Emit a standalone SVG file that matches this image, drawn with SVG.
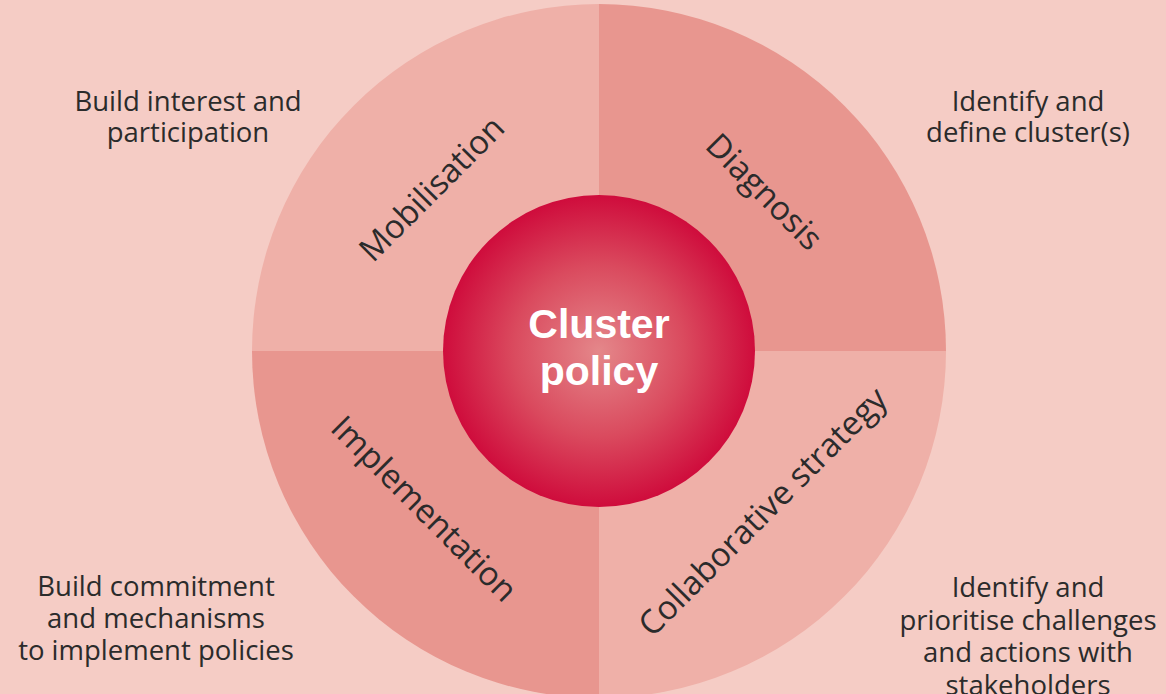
<svg xmlns="http://www.w3.org/2000/svg" width="1166" height="694" viewBox="0 0 1166 694">
  <defs>
    <style>
      .side { font-family: "Open Sans", "Liberation Sans", sans-serif; font-size: 27.5px; fill: #2b2b2b; text-anchor: middle; }
      .quad { font-family: "Open Sans", "Liberation Sans", sans-serif; font-size: 33px; fill: #2b2b2b; text-anchor: middle; }
      .core { font-family: "Liberation Sans", Arial, sans-serif; font-size: 41px; font-weight: bold; fill: #ffffff; text-anchor: middle; }
      .light { fill: #efb0a8; }
      .dark { fill: #e8968f; }
    </style>
    <radialGradient id="coreGrad" cx="0.5" cy="0.5" r="0.5">
      <stop offset="0" stop-color="#e4878a"/>
      <stop offset="0.55" stop-color="#da4a5e"/>
      <stop offset="1" stop-color="#cf0c3c"/>
    </radialGradient>
  </defs>
  <rect x="0" y="0" width="1166" height="694" fill="#f5ccc5"/>

  <g id="mobilisation">
    <path class="light" d="M599,351 L252,351 A347,347 0 0 1 599,4 Z"/>
    <text class="quad" transform="translate(432,189) rotate(-45)" x="0" y="11">Mobilisation</text>
  </g>
  <g id="diagnosis">
    <path class="dark" d="M599,351 L599,4 A347,347 0 0 1 946,351 Z"/>
    <text class="quad" transform="translate(764,192) rotate(45)" x="0" y="11">Diagnosis</text>
  </g>
  <g id="collaborative-strategy">
    <path class="light" d="M599,351 L946,351 A347,347 0 0 1 599,698 Z"/>
    <text class="quad" transform="translate(763,512) rotate(-45)" x="0" y="11">Collaborative strategy</text>
  </g>
  <g id="implementation">
    <path class="dark" d="M599,351 L599,698 A347,347 0 0 1 252,351 Z"/>
    <text class="quad" transform="translate(424,509) rotate(45)" x="0" y="11">Implementation</text>
  </g>

  <g id="cluster-policy">
    <circle cx="599" cy="351" r="156" fill="url(#coreGrad)"/>
    <text class="core" x="599" y="338">Cluster</text>
    <text class="core" x="599" y="385">policy</text>
  </g>

  <g id="note-mobilisation">
    <text class="side" x="188" y="111">Build interest and</text>
    <text class="side" x="188" y="142">participation</text>
  </g>
  <g id="note-diagnosis">
    <text class="side" x="1028" y="111">Identify and</text>
    <text class="side" x="1028" y="142">define cluster(s)</text>
  </g>
  <g id="note-implementation">
    <text class="side" x="156" y="596">Build commitment</text>
    <text class="side" x="156" y="628">and mechanisms</text>
    <text class="side" x="156" y="660">to implement policies</text>
  </g>
  <g id="note-collaborative">
    <text class="side" x="1028" y="597">Identify and</text>
    <text class="side" x="1028" y="629.5">prioritise challenges</text>
    <text class="side" x="1028" y="662">and actions with</text>
    <text class="side" x="1028" y="694.5">stakeholders</text>
  </g>

  <g id="connectors"></g>
</svg>
